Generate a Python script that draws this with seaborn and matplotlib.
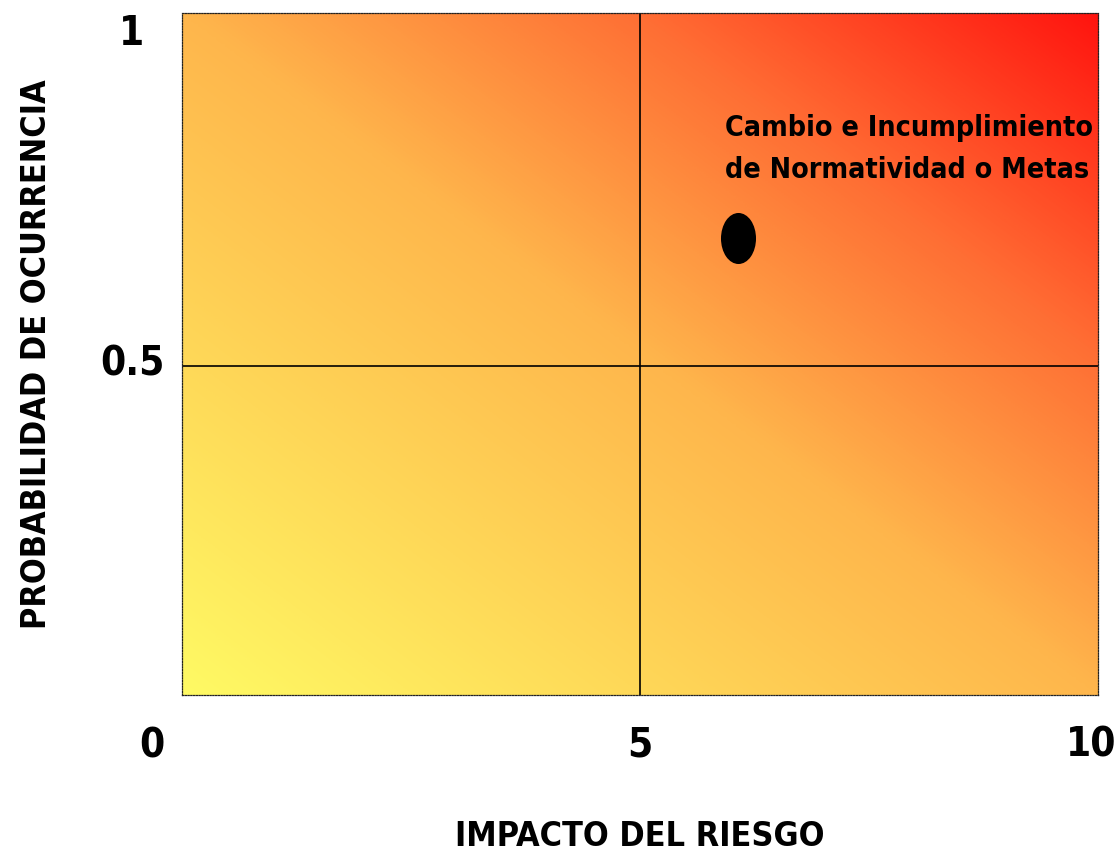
import numpy as np
import pandas as pd
import matplotlib
matplotlib.use("Agg")
import matplotlib.pyplot as plt
from matplotlib.colors import LinearSegmentedColormap
from matplotlib.path import Path
from matplotlib.transforms import Affine2D, ScaledTranslation
import seaborn as sns

# datos del mapa de riesgos
riesgos = ["Cambio e Incumplimiento\nde Normatividad o Metas"]
impacto = [6.07]
probabilidad = [0.681]

x_ticks = [5, 10]
x_ticklabels = ["5", "10"]
y_ticks = [0.5, 1]
y_ticklabels = ["0.5", "1"]
x_lim = (0, 10)
y_lim = (0.034, 1)
x_mid = 5
y_mid = 0.5

sns.set_theme(style="white")
plt.rcParams["font.family"] = ["DejaVu Sans"]
plt.rcParams["font.stretch"] = "condensed"
plt.rcParams["font.weight"] = "bold"
plt.rcParams["text.color"] = "black"

fig = plt.figure(figsize=(11.18, 8.51), dpi=100)
ax = fig.add_axes([182 / 1118, 1 - 695 / 851, 916 / 1118, 682 / 851])

# fondo degradado amarillo -> rojo
cmap = LinearSegmentedColormap.from_list(
    "riesgo",
    [(0.0, "#FFFA64"), (0.5, "#FEB64C"), (0.75, "#FF6E34"), (1.0, "#FF140F")],
)
gx, gy = np.meshgrid(np.linspace(0, 1, 400), np.linspace(0, 1, 400))
grad = (gx + gy) / 2
ax.imshow(grad, cmap=cmap, origin="lower", aspect="auto",
          extent=(x_lim[0], x_lim[1], y_lim[0], y_lim[1]), zorder=0,
          interpolation="bilinear")

ax.axvline(x_mid, color="black", lw=1.2, zorder=1)
ax.axhline(y_mid, color="black", lw=1.2, zorder=1)

# marcador eliptico
circ = Path.unit_circle()
ellipse = Affine2D().scale(35, 51).transform_path(circ)
df = pd.DataFrame({"impacto": impacto, "prob": probabilidad, "riesgo": riesgos})
sns.scatterplot(data=df, x="impacto", y="prob", marker=ellipse, s=1350,
                color="black", edgecolor="black", linewidth=0, ax=ax, zorder=3,
                legend=False)

for _, r in df.iterrows():
    ax.text(r["impacto"] - 0.14, r["prob"] + 0.176, r["riesgo"], fontsize=20.5,
            fontweight="bold", ha="left", va="top", linespacing=1.62, zorder=4,
            color="black")

ax.set_xlim(*x_lim)
ax.set_ylim(*y_lim)
ax.set_xticks(x_ticks)
ax.set_xticklabels(x_ticklabels)
ax.set_yticks(y_ticks)
ax.set_yticklabels(y_ticklabels, ha="center")
ax.tick_params(axis="both", length=0, labelsize=29, labelcolor="black")
ax.tick_params(axis="y", pad=36)
ax.tick_params(axis="x", pad=22)
ax.text(-0.33, y_lim[0], "0", fontsize=29, fontweight="bold", color="black",
        ha="center", va="top", clip_on=False,
        transform=ax.transData + Affine2D().translate(0, -31))

ax.set_xlabel("IMPACTO DEL RIESGO", fontsize=24.5, fontweight="bold",
              labelpad=39, color="black")
ax.set_ylabel("PROBABILIDAD DE OCURRENCIA", fontsize=24.5, fontweight="bold",
              labelpad=34, color="black")

for s in ax.spines.values():
    s.set_visible(True)
    s.set_linestyle((0, (1, 1.2)))
    s.set_linewidth(0.9)
    s.set_color("#222222")

# pequenos ajustes de posicion de etiquetas
shifts_x = {"10": (-7, 0)}
shifts_y = {"1": (0, -16), "0.5": (0, 6)}
for lbl in ax.get_xticklabels():
    lbl.set_fontweight("bold")
    dx, dy = shifts_x.get(lbl.get_text(), (0, 0))
    lbl.set_transform(lbl.get_transform()
                      + ScaledTranslation(dx / 100, dy / 100, fig.dpi_scale_trans))
for lbl in ax.get_yticklabels():
    lbl.set_fontweight("bold")
    dx, dy = shifts_y.get(lbl.get_text(), (0, 0))
    lbl.set_transform(lbl.get_transform()
                      + ScaledTranslation(dx / 100, dy / 100, fig.dpi_scale_trans))

fig.savefig("out.png", dpi=100)
